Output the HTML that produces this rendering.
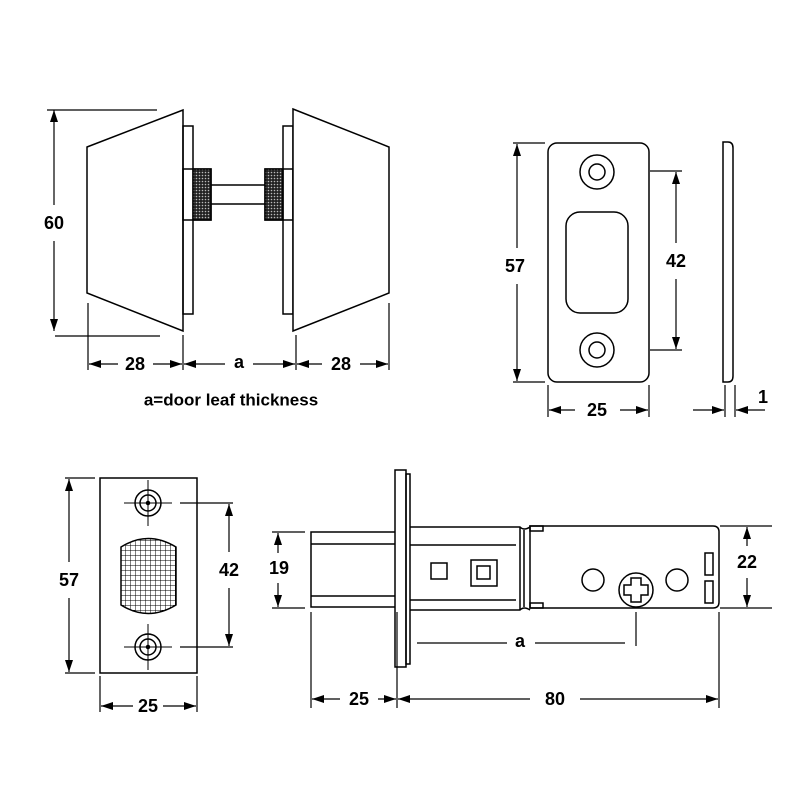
<!DOCTYPE html>
<html><head><style>body{margin:0;background:#fff}svg{display:block}text{font-family:"Liberation Sans",Arial,sans-serif;font-weight:bold;font-size:18px;text-anchor:middle;dominant-baseline:central}</style></head><body>
<svg width="800" height="800" viewBox="0 0 800 800" xmlns="http://www.w3.org/2000/svg">
<defs>
<marker id="a" viewBox="0 0 12 8" refX="12" refY="4" markerWidth="12" markerHeight="8" markerUnits="userSpaceOnUse" orient="auto"><path d="M0,0L12,4L0,8z" fill="#000"/></marker>
<pattern id="k" width="3" height="3" patternUnits="userSpaceOnUse"><rect width="3" height="3" fill="#222"/><circle cx="1.5" cy="1.5" r="0.8" fill="#bbb"/></pattern>
<pattern id="g" width="5" height="5" patternUnits="userSpaceOnUse"><rect width="5" height="5" fill="#fff"/><path d="M0,0H5M0,0V5" stroke="#000" stroke-width="1"/></pattern>
</defs>
<g fill="none" stroke="#000" stroke-width="1.5">
<path d="M87,147L183,110V331L87,293Z" fill="#fff"/>
<rect x="183" y="126" width="10" height="188"/>
<rect x="183" y="169" width="28" height="51"/>
<rect x="193" y="169" width="18" height="51" fill="url(#k)"/>
<path d="M211,185H265M211,204H265"/>
<rect x="265" y="169" width="28" height="51"/>
<rect x="265" y="169" width="18" height="51" fill="url(#k)"/>
<rect x="283" y="126" width="10" height="188"/>
<path d="M293,109L389,147V293L293,331Z" fill="#fff"/>
<rect x="548" y="143" width="101" height="239" rx="9"/>
<circle cx="597" cy="172" r="17"/><circle cx="597" cy="172" r="8"/>
<circle cx="597" cy="350" r="17"/><circle cx="597" cy="350" r="8"/>
<rect x="566" y="212" width="62" height="101" rx="14"/>
<path d="M723,142H728Q733,142 733,148V376Q733,382 728,382H723Z"/>
<rect x="100" y="478" width="97" height="195"/>
<circle cx="148" cy="503" r="13"/><circle cx="148" cy="503" r="8"/><circle cx="148" cy="503" r="1.5" fill="#000"/>
<circle cx="148" cy="647" r="13"/><circle cx="148" cy="647" r="8"/><circle cx="148" cy="647" r="1.5" fill="#000"/>
<path d="M148,480V526M124,503H172M148,624V670M124,647H172" stroke-width="1"/>
<path d="M121,547Q148,530 176,547V605Q148,622 121,605Z" fill="url(#g)"/>
<rect x="311" y="532" width="86" height="75"/>
<path d="M311,544H397M311,596H397"/>
<rect x="395" y="470" width="11" height="197" fill="#fff"/>
<rect x="406" y="474" width="4" height="190"/>
<path d="M410,527H520Q524,531 530,527M410,610H520Q524,606 530,610"/>
<path d="M410,545H516M410,600H516M520,527V610M524,530V607"/>
<path d="M530,526H713Q719,526 719,532V602Q719,608 713,608H530Z"/>
<rect x="530" y="526" width="13" height="5"/><rect x="530" y="603" width="13" height="5"/>
<rect x="431" y="563" width="16" height="16"/>
<rect x="471" y="560" width="26" height="26"/><rect x="477" y="566" width="13" height="13"/>
<circle cx="593" cy="580" r="11"/><circle cx="677" cy="580" r="11"/>
<circle cx="636" cy="590" r="17"/>
<path d="M631,578H641V585H648V595H641V602H631V595H624V585H631Z"/>
<rect x="705" y="553" width="8" height="22"/><rect x="705" y="581" width="8" height="22"/>
<g stroke-width="1.2">
<path d="M47,110H157M55,336H160M88,303V370M183,335V370M296,335V370M389,303V370"/>
<path d="M513,143H545M513,382H545M650,171H682M650,350H682M548,385V417M649,385V417M725,385V417M735,385V417"/>
<path d="M65,478H95M65,673H95M180,503H233M180,647H233M100,676V712M197,676V712M272,532H305M272,608H305"/>
<path d="M720,526H772M720,608H772M636,612V646M311,612V708M397,612V708M719,612V708"/>
<path d="M417,643H507M535,643H625"/>
</g>
<g stroke-width="1.2" marker-end="url(#a)">
<path d="M54,205V110"/><path d="M54,241V331"/>
<path d="M118,364H89"/><path d="M153,364H182"/>
<path d="M225,364H184"/><path d="M253,364H295"/>
<path d="M322,364H297"/><path d="M360,364H388"/>
<path d="M517,248V144"/><path d="M517,284V381"/>
<path d="M676,243V172"/><path d="M676,279V349"/>
<path d="M575,410H549"/><path d="M620,410H648"/>
<path d="M693,410H724"/><path d="M765,410H736"/>
<path d="M69,562V479"/><path d="M69,598V672"/>
<path d="M229,552V504"/><path d="M229,588V646"/>
<path d="M133,706H101"/><path d="M163,706H196"/>
<path d="M278,553V533"/><path d="M278,583V607"/>
<path d="M747,546V527"/><path d="M747,578V607"/>
<path d="M340,699H312"/><path d="M378,699H396"/>
<path d="M530,699H398"/><path d="M580,699H718"/>
</g>
</g>
<g fill="#fff">
<rect x="40" y="211" width="28" height="24"/>
</g>
<text x="54" y="223">60</text>
<text x="135" y="364">28</text>
<text x="239" y="362">a</text>
<text x="341" y="364">28</text>
<text x="231" y="400" style="font-size:17px">a=door leaf thickness</text>
<text x="515" y="266">57</text>
<text x="676" y="261">42</text>
<text x="597" y="410">25</text>
<text x="763" y="397">1</text>
<text x="69" y="580">57</text>
<text x="229" y="570">42</text>
<text x="148" y="706">25</text>
<text x="279" y="568">19</text>
<text x="747" y="562">22</text>
<text x="520" y="641">a</text>
<text x="359" y="699">25</text>
<text x="555" y="699">80</text>
</svg>
</body></html>
